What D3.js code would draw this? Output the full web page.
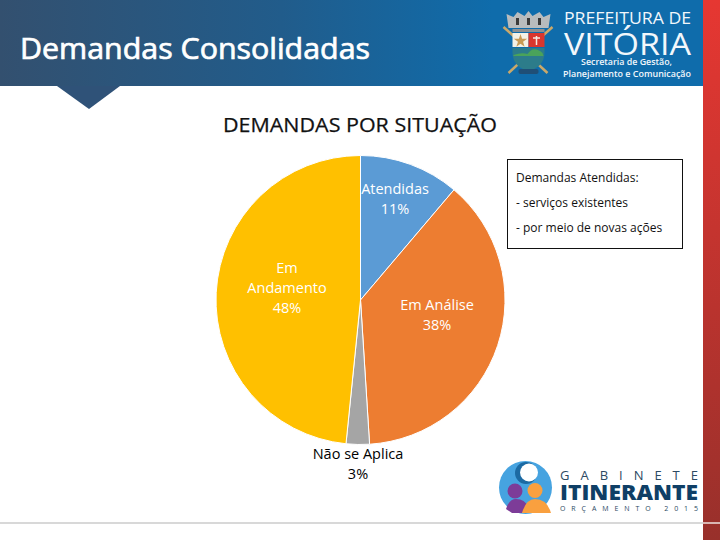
<!DOCTYPE html>
<html>
<head>
<meta charset="utf-8">
<script src="https://cdn.jsdelivr.net/npm/d3@7/dist/d3.min.js"></script>
<style>
html,body{margin:0;padding:0;background:#fff;width:720px;height:540px;overflow:hidden}
svg{display:block}
text{font-family:"Open Sans","Noto Sans",sans-serif}
</style>
</head>
<body>
<svg id="c" width="720" height="540" viewBox="0 0 720 540"></svg>
<script>
const slideTitle = "Demandas Consolidadas";
const chartTitle = "DEMANDAS POR SITUAÇÃO";
const categories = ["Atendidas", "Em Análise", "Não se Aplica", "Em Andamento"];
const values = [11.2, 37.8, 2.6, 48.4];
const colors = ["#5b9bd5", "#ed7d31", "#a5a5a5", "#ffc000"];
const labelColors = ["#fff", "#fff", "#000", "#fff"];
const labelLines = [["Atendidas"], ["Em Análise"], ["Não se Aplica"], ["Em", "Andamento"]];
const labelAnchors = [[395, 194], [437, 310], [358, 459], [287, 273]];
const noteLines = ["Demandas Atendidas:", "- serviços existentes", "- por meio de novas ações"];

const svg = d3.select("#c");
const defs = svg.append("defs");
const hdr = defs.append("linearGradient").attr("id", "hdr");
hdr.append("stop").attr("offset", 0).attr("stop-color", "#33506f");
hdr.append("stop").attr("offset", 0.4).attr("stop-color", "#215c8b");
hdr.append("stop").attr("offset", 0.7).attr("stop-color", "#0f6cab");
hdr.append("stop").attr("offset", 1).attr("stop-color", "#0f6cab");
const red = defs.append("linearGradient").attr("id", "red").attr("x2", 0).attr("y2", 1);
red.append("stop").attr("offset", 0).attr("stop-color", "#e63732");
red.append("stop").attr("offset", 1).attr("stop-color", "#98302b");

// Header
svg.append("rect").attr("width", 703).attr("height", 86).attr("fill", "url(#hdr)");
svg.append("path").attr("d", "M57,86H120L89,109Z").attr("fill", "#2f5278");
svg.append("rect").attr("x", 703).attr("width", 17).attr("height", 540).attr("fill", "url(#red)");
svg.append("rect").attr("y", 522).attr("width", 720).attr("height", 2).attr("fill", "#d8d8d8");
svg.append("rect").attr("x", 703).attr("y", 522).attr("width", 17).attr("height", 2).attr("fill", "#d9b5b2");

svg.append("text").attr("x", 20).attr("y", 59).attr("font-size", 28.5).attr("font-weight", 400)
  .attr("fill", "#fff").attr("stroke", "#fff").attr("stroke-width", 0.7)
  .attr("textLength", 350).attr("lengthAdjust", "spacingAndGlyphs").text(slideTitle);

// Coat of arms
const coat = svg.append("g").attr("transform", "translate(-4.5,0)");
coat.append("path").attr("d", "M508,27L526,43M557,27L539,43").attr("stroke", "#c9a86a").attr("stroke-width", 2.5).attr("fill", "none");
coat.append("path").attr("d", "M513,73L527,60M552,73L538,60").attr("stroke", "#c9a86a").attr("stroke-width", 2.5).attr("fill", "none");
coat.append("path").attr("d", "M513,28L511,14L518,17L522,12L529,16L533,11L537,16L544,12L548,17L555,14L553,28Z").attr("fill", "#b9bcbd");
coat.selectAll(".win").data([522, 533, 544]).join("rect").attr("x", d => d - 1.5).attr("y", 18).attr("width", 3).attr("height", 7).attr("fill", "#3a3a3a");
coat.append("rect").attr("x", 517).attr("y", 29).attr("width", 32).attr("height", 3).attr("fill", "#8f8f8f");
coat.append("rect").attr("x", 517).attr("y", 33).attr("width", 16).attr("height", 14).attr("fill", "#f4f1e6");
coat.append("rect").attr("x", 533).attr("y", 33).attr("width", 16).attr("height", 14).attr("fill", "#d9362e");
coat.append("path").attr("d", d3.symbol(d3.symbolStar, 55)()).attr("transform", "translate(525,41)").attr("fill", "#c79a55");
coat.append("path").attr("d", "M541,36V45M537.5,38H544.5").attr("stroke", "#f6e8e0").attr("stroke-width", 1.5);
coat.append("path").attr("d", "M517,48H549V53A16,17 0 0 1 517,53Z").attr("fill", "#2c7c8a");
coat.append("path").attr("d", "M518,55Q526,52 532,54Q538,45 547,53L548,56H518Z").attr("fill", "#4aa35a");
coat.append("rect").attr("x", 523).attr("y", 69).attr("width", 20).attr("height", 5).attr("rx", 2).attr("fill", "#1f4f77");

// Logo text
const logoText = [
  ["PREFEITURA DE", 564, 24, 15.5, 400, 127],
  ["VITÓRIA", 564, 55, 31, 400, 127],
  ["Secretaria de Gestão,", 581, 65, 9, 600, 91],
  ["Planejamento e Comunicação", 563, 76.5, 9, 600, 128]
];
svg.append("g").selectAll("text").data(logoText).join("text")
  .attr("x", d => d[1]).attr("y", d => d[2]).attr("font-size", d => d[3]).attr("font-weight", d => d[4])
  .attr("textLength", d => d[5]).attr("lengthAdjust", "spacingAndGlyphs")
  .attr("fill", "#f2f7fb").text(d => d[0]);

// Chart title
svg.append("text").attr("x", 360).attr("y", 132).attr("text-anchor", "middle")
  .attr("font-size", 19.5).attr("fill", "#111").attr("stroke", "#111").attr("stroke-width", 0.25)
  .attr("textLength", 274).attr("lengthAdjust", "spacingAndGlyphs").text(chartTitle);

// Pie
const pie = d3.pie().sort(null).value(d => d)(values);
const arc = d3.arc().innerRadius(0).outerRadius(144.5);
const gp = svg.append("g").attr("transform", "translate(360.5,300)");
gp.selectAll("path").data(pie).join("path")
  .attr("d", arc).attr("fill", (d, i) => colors[i])
  .attr("stroke", "#fff").attr("stroke-width", 1);

// Labels
const pct = d3.format(".0f");
const labels = svg.append("g").attr("font-size", 14.5).attr("font-weight", 500).attr("text-anchor", "middle");
categories.forEach((c, i) => {
  const lines = labelLines[i].concat(pct(values[i]) + "%");
  const t = labels.append("text").attr("fill", labelColors[i]);
  lines.forEach((l, j) => t.append("tspan")
    .attr("x", labelAnchors[i][0]).attr("y", labelAnchors[i][1] + j * 20).text(l));
});

// Note box
svg.append("rect").attr("x", 507.5).attr("y", 159.5).attr("width", 175).attr("height", 89)
  .attr("fill", "#fff").attr("stroke", "#111").attr("stroke-width", 1);
svg.append("g").attr("font-size", 12).attr("font-weight", 500).attr("fill", "#111").selectAll("text").data(noteLines).join("text")
  .attr("x", 516).attr("y", (d, i) => 182 + i * 25).text(d => d);

// Gabinete logo
const gab = svg.append("g");
gab.append("circle").attr("cx", 525.5).attr("cy", 487.5).attr("r", 26.5).attr("fill", "#46a3e0");
gab.append("circle").attr("cx", 526).attr("cy", 473).attr("r", 11).attr("fill", "#1c6aa3");
gab.append("circle").attr("cx", 529).attr("cy", 472.5).attr("r", 9).attr("fill", "#fff");
gab.append("circle").attr("cx", 515).attr("cy", 491).attr("r", 7.5).attr("fill", "#7d3c98");
gab.append("path").attr("d", "M506,509Q509,499 516,499Q525,499 528,507L522,513H512Z").attr("fill", "#7d3c98");
gab.append("circle").attr("cx", 535).attr("cy", 490.5).attr("r", 7.5).attr("fill", "#f9a03f");
gab.append("path").attr("d", "M522,513Q526,499 535,499Q547,499 551,513Z").attr("fill", "#f9a03f");
const gabText = [
  ["GABINETE", 560, 480, 13, 400, 138, "#2c4a63", "spacing"],
  ["ITINERANTE", 560, 500, 21, 800, 138, "#0f3f66", "spacingAndGlyphs"],
  ["ORÇAMENTO 2015", 560, 511, 7, 400, 138, "#2c4a63", "spacing"]
];
svg.append("g").selectAll("text").data(gabText).join("text")
  .attr("x", d => d[1]).attr("y", d => d[2]).attr("font-size", d => d[3]).attr("font-weight", d => d[4])
  .attr("textLength", d => d[5]).attr("lengthAdjust", d => d[7]).attr("fill", d => d[6]).text(d => d[0]);
</script>
</body>
</html>
